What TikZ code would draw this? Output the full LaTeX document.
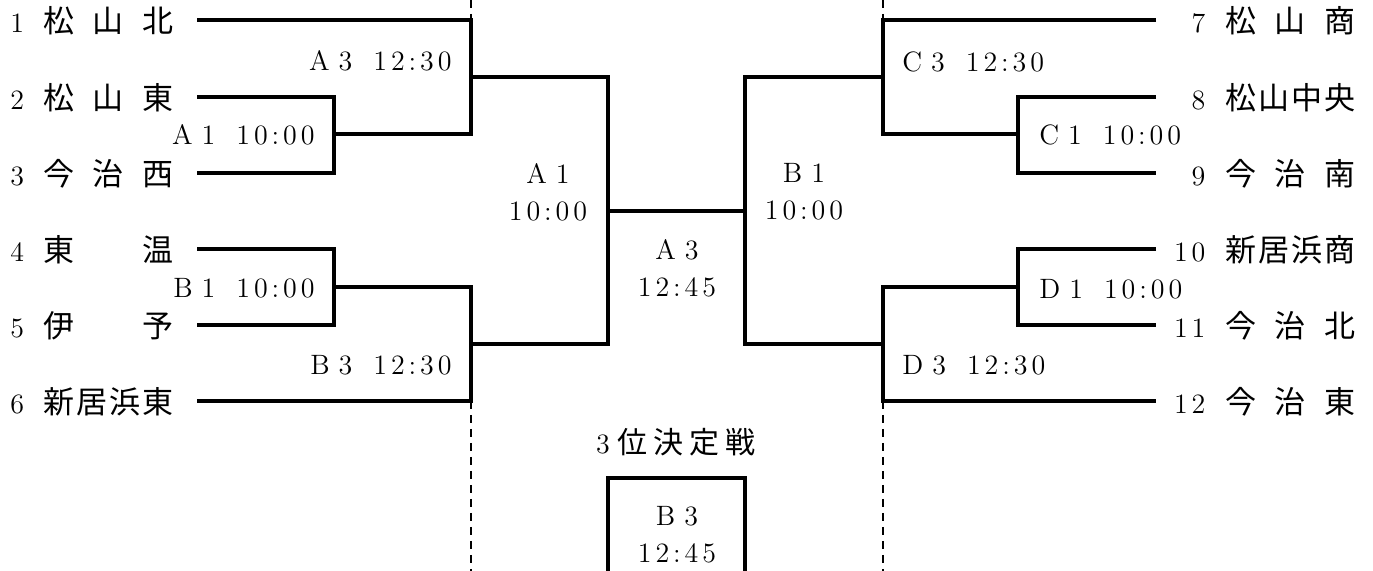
\documentclass[tikz,border=0pt]{standalone}
\usepackage{fontspec}
\setmainfont{Latin Modern Roman}
\newfontfamily\jp{Noto Sans CJK JP}
\newfontfamily\spaced[LetterSpace=14]{Latin Modern Roman}
\usepackage{tikz}

\newcommand{\leftno}[1]{\makebox[16.5pt][l]{#1}}
\newcommand{\rightno}[1]{\makebox[17.5pt][r]{#1}\hspace{10pt}}
\newcommand{\teamname}[1]{\makebox[65pt][s]{\fontsize{15.5}{18}\selectfont\jp #1}}

\tikzset{
  bar/.style={line width=2.3pt},
  guide/.style={line width=0.8pt,dash pattern=on 4pt off 3pt},
  lbl/.style={inner sep=0pt,font=\spaced\fontsize{14}{18.5}\selectfont},
  team/.style={inner sep=0pt,font=\spaced\fontsize{14}{18}\selectfont}
}

\begin{document}
\begin{tikzpicture}[x=0.5pt,y=-0.5pt]
  \useasboundingbox (0,0) rectangle (1373,571);

  % line ends of the teams
  \coordinate (p1)  at (197,20);
  \coordinate (p2)  at (197,97);
  \coordinate (p3)  at (197,173);
  \coordinate (p4)  at (197,249);
  \coordinate (p5)  at (197,325);
  \coordinate (p6)  at (197,401);
  \coordinate (p7)  at (1156,20);
  \coordinate (p8)  at (1156,97);
  \coordinate (p9)  at (1156,173);
  \coordinate (p10) at (1156,249);
  \coordinate (p11) at (1156,325);
  \coordinate (p12) at (1156,401);

  % junctions
  \coordinate (jA1) at (334,134);
  \coordinate (jA3) at (471,77);
  \coordinate (jB1) at (334,287);
  \coordinate (jB3) at (471,344);
  \coordinate (jC1) at (1018,134);
  \coordinate (jC3) at (883,77);
  \coordinate (jD1) at (1018,287);
  \coordinate (jD3) at (883,344);
  \coordinate (fL)  at (608,211);
  \coordinate (fR)  at (745,211);

  % third place box
  \coordinate (tpBL) at (608,571);
  \coordinate (tpTL) at (608,478);
  \coordinate (tpTR) at (745,478);
  \coordinate (tpBR) at (745,571);

  % guide lines
  \coordinate (gL0) at (471,0);
  \coordinate (gL1) at (471,20);
  \coordinate (gL2) at (471,401);
  \coordinate (gL3) at (471,571);
  \coordinate (gR0) at (883,0);
  \coordinate (gR1) at (883,20);
  \coordinate (gR2) at (883,401);
  \coordinate (gR3) at (883,571);

  \draw[guide] (gL0) -- (gL1) (gL2) -- (gL3);
  \draw[guide] (gR0) -- (gR1) (gR2) -- (gR3);

  % left half
  \draw[bar] (p2) -| (jA1) |- (p3);
  \draw[bar] (p1) -| (jA3) |- (jA1);
  \draw[bar] (p4) -| (jB1) |- (p5);
  \draw[bar] (jB1) -| (jB3) |- (p6);
  \draw[bar] (jA3) -| (fL) |- (jB3);

  % right half
  \draw[bar] (p8) -| (jC1) |- (p9);
  \draw[bar] (p7) -| (jC3) |- (jC1);
  \draw[bar] (p10) -| (jD1) |- (p11);
  \draw[bar] (jD1) -| (jD3) |- (p12);
  \draw[bar] (jC3) -| (fR) |- (jD3);

  % final
  \draw[bar] (fL) -- (fR);
  \draw[bar] (tpBL) -- (tpTL) -- (tpTR) -- (tpBR);

  % teams
  \node[team,anchor=west] (t1) at (10,21)  {\leftno{1}\teamname{松\hfil 山\hfil 北}};
  \node[team,anchor=west] (t2) at (10,98)  {\leftno{2}\teamname{松\hfil 山\hfil 東}};
  \node[team,anchor=west] (t3) at (10,174) {\leftno{3}\teamname{今\hfil 治\hfil 西}};
  \node[team,anchor=west] (t4) at (10,250) {\leftno{4}\teamname{東\hfil 温}};
  \node[team,anchor=west] (t5) at (10,326) {\leftno{5}\teamname{伊\hfil 予}};
  \node[team,anchor=west] (t6) at (10,402) {\leftno{6}\teamname{新\hfil 居\hfil 浜\hfil 東}};
  \node[team,anchor=west] (t7)  at (1170,21)  {\rightno{7}\teamname{松\hfil 山\hfil 商}};
  \node[team,anchor=west] (t8)  at (1170,98)  {\rightno{8}\teamname{松\hfil 山\hfil 中\hfil 央}};
  \node[team,anchor=west] (t9)  at (1170,174) {\rightno{9}\teamname{今\hfil 治\hfil 南}};
  \node[team,anchor=west] (t10) at (1170,250) {\rightno{10}\teamname{新\hfil 居\hfil 浜\hfil 商}};
  \node[team,anchor=west] (t11) at (1170,326) {\rightno{11}\teamname{今\hfil 治\hfil 北}};
  \node[team,anchor=west] (t12) at (1170,402) {\rightno{12}\teamname{今\hfil 治\hfil 東}};

  % match times
  \node[lbl,anchor=east] (mA3) at (452,61)  {A\hspace{4.5pt}3\hspace{10.5pt}12:30};
  \node[lbl,anchor=east] (mA1) at (315,135) {A\hspace{4.5pt}1\hspace{10.5pt}10:00};
  \node[lbl,anchor=east] (mB1) at (315,288) {B\hspace{4.5pt}1\hspace{10.5pt}10:00};
  \node[lbl,anchor=east] (mB3) at (452,365) {B\hspace{4.5pt}3\hspace{10.5pt}12:30};
  \node[lbl,anchor=west] (mC3) at (902,62)  {C\hspace{4.5pt}3\hspace{10.5pt}12:30};
  \node[lbl,anchor=west] (mC1) at (1039,135) {C\hspace{4.5pt}1\hspace{10.5pt}10:00};
  \node[lbl,anchor=west] (mD1) at (1039,289) {D\hspace{4.5pt}1\hspace{10.5pt}10:00};
  \node[lbl,anchor=west] (mD3) at (902,365) {D\hspace{4.5pt}3\hspace{10.5pt}12:30};

  \node[lbl,align=center] (sA1) at (548,192) {A\hspace{4.5pt}1\\10:00};
  \node[lbl,align=center] (sB1) at (804,192) {B\hspace{4.5pt}1\\10:00};
  \node[lbl,align=center] (fin) at (677,268) {A\hspace{4.5pt}3\\12:45};
  \node[lbl] (third) at (676,442) {3\hspace{4pt}{\jp\fontsize{15}{18}\selectfont 位\hspace{3pt}決\hspace{3pt}定\hspace{3pt}戦}};
  \node[lbl,align=center] (tpm) at (677,535) {B\hspace{4.5pt}3\\12:45};
\end{tikzpicture}
\end{document}
